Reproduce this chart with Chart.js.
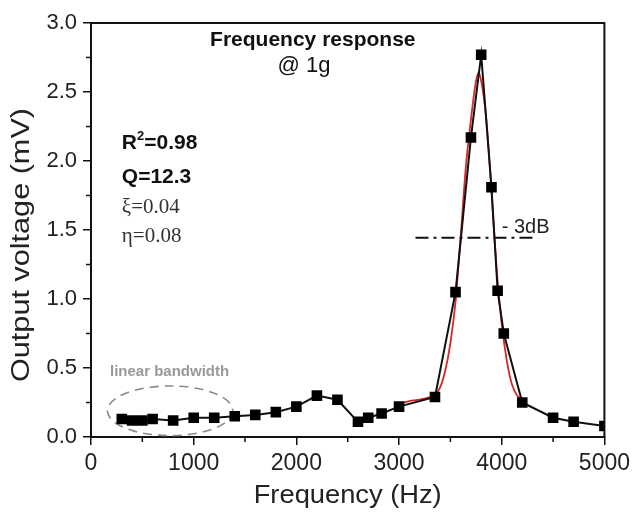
<!DOCTYPE html>
<html>
<head>
<meta charset="utf-8">
<script src="https://cdn.jsdelivr.net/npm/chart.js@4/dist/chart.umd.min.js"></script>
<style>
  html, body { margin: 0; padding: 0; background: #fff; }
  #wrap { width: 635px; height: 517px; }
</style>
</head>
<body>
<div id="wrap"><canvas id="chart"></canvas></div>
<script>
// measured points (Hz, mV)
const freq_hz = [300, 400, 500, 600, 800, 1000, 1200, 1400, 1600, 1800, 2000, 2200, 2400, 2600, 2700, 2830, 3000, 3350, 3550, 3700, 3800, 3900, 3960, 4020, 4200, 4500, 4700, 5000]
const voltage_mv = [0.13, 0.12, 0.12, 0.13, 0.12, 0.14, 0.14, 0.15, 0.16, 0.18, 0.22, 0.30, 0.27, 0.11, 0.14, 0.17, 0.22, 0.29, 1.05, 2.17, 2.77, 1.81, 1.06, 0.75, 0.25, 0.14, 0.11, 0.08]

// red fit curve
const fit_hz = [3000, 3100, 3200, 3300, 3350, 3400, 3450, 3500, 3550, 3600, 3650, 3700, 3750, 3775, 3800, 3850, 3900, 3950, 4000, 4050, 4100, 4150, 4200]
const fit_mv = [0.24, 0.26, 0.27, 0.29, 0.31, 0.36, 0.48, 0.68, 0.98, 1.45, 1.95, 2.30, 2.58, 2.64, 2.58, 2.30, 1.78, 1.22, 0.82, 0.55, 0.38, 0.30, 0.27]

// -3dB marker
const db3_hz = [3160, 4320]
const db3_mv = [1.444, 1.444]

const x_ticks = [0, 1000, 2000, 3000, 4000, 5000]
const y_ticks = [0.0, 0.5, 1.0, 1.5, 2.0, 2.5, 3.0]
const x_minor = [500, 1500, 2500, 3500, 4500]
const y_minor = [0.25, 0.75, 1.25, 1.75, 2.25, 2.75]

const SANS = "'Liberation Sans', Arial, sans-serif"
const SERIF = "'Liberation Serif', 'DejaVu Serif', serif"

function to_xy(xs, ys) {
    return xs.map((x, i) => ({x: x, y: ys[i]}))
}

// text squeezed/stretched to a given length
function fit_text(ctx, text, x, y, len, angle) {
    const w = ctx.measureText(text).width
    ctx.save()
    ctx.translate(x, y)
    ctx.rotate(angle)
    ctx.scale(len / w, 1)
    ctx.fillText(text, 0, 0)
    ctx.restore()
}

const extras = {
    id: 'extras',
    beforeDatasetsDraw(chart) {
        // linear bandwidth ellipse, behind the points
        const ctx = chart.ctx
        const sx = chart.scales.x
        const sy = chart.scales.y
        const cx = sx.getPixelForValue(770)
        const cy = sy.getPixelForValue(0.19)
        const rx = sx.getPixelForValue(1380) - cx
        const ry = cy - sy.getPixelForValue(0.37)
        ctx.save()
        ctx.strokeStyle = '#8a8a8a'
        ctx.lineWidth = 1.6
        ctx.setLineDash([9, 6])
        ctx.beginPath()
        ctx.ellipse(cx, cy, rx, ry, 0, 0, Math.PI * 2)
        ctx.stroke()
        ctx.setLineDash([])
        ctx.fillStyle = '#999'
        ctx.font = 'bold 15px ' + SANS
        ctx.textAlign = 'left'
        ctx.textBaseline = 'alphabetic'
        ctx.fillText('linear bandwidth', sx.getPixelForValue(185), sy.getPixelForValue(0.44))
        ctx.restore()
    },
    afterDraw(chart) {
        const ctx = chart.ctx
        const a = chart.chartArea
        const sx = chart.scales.x
        const sy = chart.scales.y
        ctx.save()

        // top and right frame
        ctx.strokeStyle = '#111'
        ctx.lineWidth = 2
        ctx.beginPath()
        ctx.moveTo(a.left, a.top)
        ctx.lineTo(a.right, a.top)
        ctx.lineTo(a.right, a.bottom)
        ctx.stroke()

        // minor ticks
        ctx.lineWidth = 1.5
        ctx.beginPath()
        x_minor.forEach(v => {
            const px = sx.getPixelForValue(v)
            ctx.moveTo(px, a.bottom)
            ctx.lineTo(px, a.bottom + 5)
        })
        y_minor.forEach(v => {
            const py = sy.getPixelForValue(v)
            ctx.moveTo(a.left, py)
            ctx.lineTo(a.left - 5, py)
        })
        ctx.stroke()

        // axis titles
        ctx.fillStyle = '#222'
        ctx.textAlign = 'center'
        ctx.textBaseline = 'middle'
        ctx.font = '26px ' + SANS
        fit_text(ctx, 'Output voltage (mV)', 22, 245, 274, -Math.PI / 2)
        ctx.font = '25px ' + SANS
        fit_text(ctx, 'Frequency (Hz)', (a.left + a.right) / 2, 496, 188, 0)

        // headings
        ctx.textBaseline = 'alphabetic'
        ctx.fillStyle = '#111'
        ctx.font = 'bold 21px ' + SANS
        ctx.fillText('Frequency response', sx.getPixelForValue(2160), sy.getPixelForValue(2.83))
        ctx.font = '22px ' + SANS
        ctx.fillText('@ 1g', sx.getPixelForValue(2075), sy.getPixelForValue(2.645))

        // fit stats
        ctx.textAlign = 'left'
        let px = sx.getPixelForValue(300)
        ctx.font = 'bold 21px ' + SANS
        ctx.fillText('R', px, sy.getPixelForValue(2.09))
        let w = ctx.measureText('R').width
        ctx.font = 'bold 13px ' + SANS
        ctx.fillText('2', px + w, sy.getPixelForValue(2.09) - 9)
        let w2 = ctx.measureText('2').width
        ctx.font = 'bold 21px ' + SANS
        ctx.fillText('=0.98', px + w + w2, sy.getPixelForValue(2.09))
        ctx.fillText('Q=12.3', px, sy.getPixelForValue(1.84))
        ctx.fillStyle = '#333'
        ctx.font = '21px ' + SERIF
        ctx.fillText('\u03BE=0.04', px, sy.getPixelForValue(1.62))
        ctx.fillText('\u03B7=0.08', px, sy.getPixelForValue(1.41))

        // -3dB label
        ctx.fillStyle = '#222'
        ctx.font = '20px ' + SANS
        ctx.fillText('- 3dB', sx.getPixelForValue(4000), sy.getPixelForValue(1.48))

        ctx.restore()
    }
}

const config = {
    type: 'line',
    data: {
        datasets: [
            {
                label: 'fit',
                data: to_xy(fit_hz, fit_mv),
                borderColor: 'rgb(214,38,38)',
                borderWidth: 1.8,
                pointRadius: 0,
                cubicInterpolationMode: 'monotone',
                order: 2
            },
            {
                label: '-3dB',
                data: to_xy(db3_hz, db3_mv),
                borderColor: '#111',
                borderWidth: 1.8,
                borderDash: [13, 5, 3, 5],
                pointRadius: 0,
                order: 3
            },
            {
                label: 'measured',
                data: to_xy(freq_hz, voltage_mv),
                borderColor: '#111',
                backgroundColor: '#000',
                borderWidth: 2,
                pointStyle: 'rect',
                pointRadius: 7.5,
                pointBorderWidth: 0,
                order: 1
            }
        ]
    },
    options: {
        responsive: true,
        maintainAspectRatio: false,
        animation: false,
        layout: {padding: {top: 23, right: 29, left: 0, bottom: 0}},
        plugins: {
            legend: {display: false},
            tooltip: {enabled: false}
        },
        scales: {
            x: {
                type: 'linear',
                min: 0,
                max: 5000,
                afterFit: s => { s.height = 80 },
                afterBuildTicks: s => { s.ticks = x_ticks.map(v => ({value: v})) },
                grid: {display: true, drawOnChartArea: false, drawTicks: true, tickLength: 8, color: '#111', lineWidth: 1.5},
                border: {display: true, color: '#111', width: 2},
                ticks: {color: '#222', font: {family: SANS, size: 23}, padding: 5, maxRotation: 0, callback: v => String(v)}
            },
            y: {
                min: 0,
                max: 3,
                afterFit: s => { s.width = 91 },
                afterBuildTicks: s => { s.ticks = y_ticks.map(v => ({value: v})) },
                grid: {display: true, drawOnChartArea: false, drawTicks: true, tickLength: 8, color: '#111', lineWidth: 1.5},
                border: {display: true, color: '#111', width: 2},
                ticks: {color: '#222', font: {family: SANS, size: 22}, padding: 6, callback: v => v.toFixed(1)}
            }
        }
    },
    plugins: [extras]
}

new Chart(document.getElementById('chart'), config)
</script>
</body>
</html>
